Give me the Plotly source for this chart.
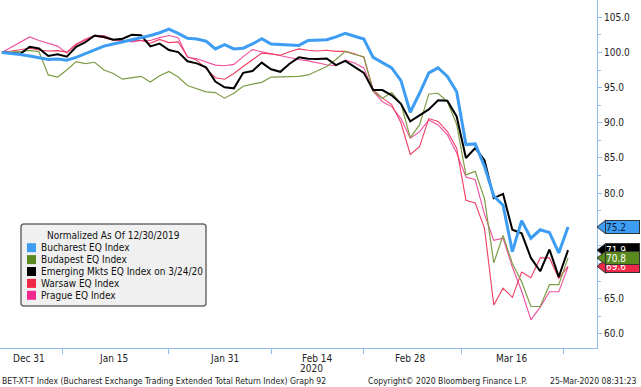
import plotly.graph_objects as go
import pandas as pd

# ---------------- data ----------------
dates = [d.strftime("%Y-%m-%d") for d in pd.bdate_range("2019-12-30", "2020-03-24")]

bucharest = [100.0, 99.9, 99.7, 99.5, 99.3, 99.0, 99.05, 98.9, 99.3, 99.8,
             100.3, 100.9, 101.2, 101.5, 101.7, 102.1, 102.4, 102.8, 103.3, 102.7,
             102.0, 101.9, 101.6, 100.5, 101.1, 100.5, 100.6, 101.2, 101.95, 101.2,
             101.1, 101.0, 101.0, 101.7, 101.7, 101.8, 102.2, 102.7, 102.3, 101.9,
             99.3, 98.6, 97.8, 96.0, 91.5, 94.2, 97.1, 97.8, 96.6, 94.4,
             86.9, 87.0, 83.8, 79.6, 78.3, 71.7, 76.1, 73.6, 74.8, 74.4,
             71.5, 75.2]
budapest = [100.0, 100.0, 100.1, 100.3, 100.1, 96.8, 96.5, 97.5, 98.7, 98.4,
            98.6, 97.5, 97.0, 96.2, 96.45, 96.6, 95.8, 96.7, 97.3, 96.5,
            95.3, 94.8, 94.4, 94.3, 93.5, 94.2, 95.2, 95.5, 95.75, 96.5,
            96.55, 96.55, 96.6, 96.8, 97.4, 98.0, 99.0, 100.15, 99.7, 99.4,
            94.5, 93.5, 94.3, 92.7, 87.9, 89.7, 94.1, 94.2, 93.0, 89.8,
            82.6, 83.1, 79.2, 70.1, 74.0, 70.0, 67.4, 63.9, 63.9, 67.0,
            67.0, 70.8]
emerging = [100.0, 99.9, 99.8, 100.8, 100.55, 99.5, 99.75, 99.4, 100.8, 101.45,
            102.4, 102.2, 101.8, 101.95, 102.5, 102.45, 100.85, 101.25, 100.35, 100.05,
            98.75, 98.45, 97.9, 95.85, 95.05, 94.9, 97.1, 97.35, 98.55, 97.6,
            97.25, 98.4, 99.3, 99.1, 99.05, 99.15, 98.2, 98.8, 98.0, 97.1,
            94.65, 94.65, 93.9, 92.7, 90.2, 91.1, 91.9, 93.2, 93.15, 90.9,
            85.0, 86.4, 84.7, 79.3, 79.9, 74.8, 74.3, 70.8, 68.9, 72.0,
            68.1, 71.9]
warsaw = [100.0, 100.2, 100.45, 100.6, 100.35, 100.2, 100.25, 100.05, 101.2, 101.8,
          102.3, 102.1, 101.75, 101.7, 101.75, 101.7, 101.3, 101.85, 101.4, 101.5,
          99.4, 98.9, 97.7, 96.4, 96.2, 97.0, 98.0, 98.9, 99.9, 99.8,
          99.6, 100.1, 100.5, 100.3, 100.2, 100.3, 100.15, 100.15, 99.8, 99.3,
          94.7, 93.5, 92.6, 90.0, 85.5, 86.6, 90.6, 90.2, 88.75, 86.4,
          79.0, 78.6, 75.0, 64.1, 66.5, 65.2, 68.8, 68.0, 70.8, 70.8,
          67.9, 69.6]
prague = [100.0, 100.7, 101.4, 102.2, 101.7, 101.3, 100.9, 99.9, 101.1, 101.9,
          102.4, 102.4, 101.85, 101.75, 101.5, 101.7, 101.7, 102.1, 102.4, 102.1,
          99.3, 99.1, 98.7, 98.2, 98.1, 98.3, 99.4, 100.4, 100.1, 99.8,
          99.5, 99.3, 99.0, 98.8, 98.5, 98.25, 98.1, 98.9, 98.5, 97.8,
          94.5, 93.0, 92.3, 90.6, 87.8, 88.7, 90.4, 89.7, 88.3, 85.7,
          82.3, 81.9, 77.0, 73.3, 73.6, 69.5, 66.1, 62.0, 63.8, 66.0,
          66.0, 69.5]

series_names = ["Bucharest EQ Index", "Budapest EQ Index",
                "Emerging Mkts EQ Index on 3/24/20", "Warsaw EQ Index", "Prague EQ Index"]
series_values = [bucharest, budapest, emerging, warsaw, prague]

tick_dates = ["2019-12-31", "2020-01-15", "2020-01-31", "2020-02-14", "2020-02-28", "2020-03-16"]
tick_labels = ["Dec 31", "Jan 15", "Jan 31", "Feb 14", "Feb 28", "Mar 16"]
year_label = "2020"
legend_title = "Normalized As Of 12/30/2019"
footer_left = "BET-XT-T Index (Bucharest Exchange Trading Extended Total Return Index) Graph 92"
footer_mid = "Copyright\u00a9 2020 Bloomberg Finance L.P."
footer_right = "25-Mar-2020 08:31:23"

# ---------------- styles ----------------
colors = ["#3d9df2", "#5a8a1e", "#000000", "#f02848", "#f0288f"]
line_colors = ["#3d9df2", "#7d9c45", "#000000", "#ef3f62", "#f04f9e"]
widths = [3, 1.2, 2, 1.1, 1.1]
draw_order = [4, 3, 1, 2, 0]
label_order = [0, 2, 3, 1]          # end-value tags, last drawn on top
label_text_colors = {0: "#0a1a3a", 1: "white", 2: "white", 3: "white"}
FONT = "DejaVu Sans Condensed, DejaVu Sans, Liberation Sans, sans-serif"
AXIS_BLUE = "#8fbfea"

W, H = 641, 387
PL, PR, PT, PB = 0, 597, 0, 348
YMIN, YMAX = 58.0, 107.45
XMIN, XMAX = -0.2, 64.12


def px_x(p):
    return (p - PL) / (PR - PL)


def px_y(p):
    return (PB - p) / (PB - PT)


dy_per_px = (YMAX - YMIN) / (PB - PT)
xi = list(range(len(dates)))

fig = go.Figure()
for k in draw_order:
    fig.add_trace(go.Scatter(x=xi, y=series_values[k], mode="lines",
                             line=dict(color=line_colors[k], width=widths[k]),
                             name=series_names[k], showlegend=False,
                             hoverinfo="skip"))

# x tick marks between the labels
label_idx = [dates.index(d) for d in tick_dates]
tick_marks = [(a + b) / 2 for a, b in zip(label_idx[:-1], label_idx[1:])]
tick_marks.append(label_idx[-1] + (label_idx[-1] - label_idx[-2]) / 2)

annotations = []
shapes = []

# x tick labels
for n, (i, lab) in enumerate(zip(label_idx, tick_labels)):
    annotations.append(dict(x=i, xref="x", y=0, yref="paper", yshift=-3,
                            text=lab, showarrow=False,
                            xanchor="left" if n == 0 else "center", yanchor="top",
                            font=dict(size=10, color="#222", family=FONT)))
annotations.append(dict(x=px_x(311), xref="paper", y=px_y(368), yref="paper",
                        text=year_label, showarrow=False, xanchor="center", yanchor="middle",
                        font=dict(size=10, color="#222", family=FONT)))
# footer
annotations.append(dict(x=px_x(0), xref="paper", y=px_y(381), yref="paper",
                        text=footer_left, showarrow=False, xanchor="left", yanchor="middle",
                        font=dict(size=8.6, color="#222", family=FONT)))
annotations.append(dict(x=px_x(447), xref="paper", y=px_y(381), yref="paper",
                        text=footer_mid, showarrow=False, xanchor="center", yanchor="middle",
                        font=dict(size=8.6, color="#222", family=FONT)))
annotations.append(dict(x=px_x(638), xref="paper", y=px_y(381), yref="paper",
                        text=footer_right, showarrow=False, xanchor="right", yanchor="middle",
                        font=dict(size=8.6, color="#222", family=FONT)))

# end value tags
half = 7 * dy_per_px
for k in label_order:
    v = series_values[k][-1]
    shapes.append(dict(type="path", xref="paper", yref="y", layer="above",
                       path=f"M {px_x(597)} {v} L {px_x(606)} {v + half} L {px_x(606)} {v - half} Z",
                       fillcolor=colors[k], line=dict(color="#333", width=1)))
    annotations.append(dict(x=px_x(605), xref="paper", y=v, yref="y",
                            text=f"{v:.1f}", showarrow=False, xanchor="left", yanchor="middle",
                            align="left", width=33, height=12, borderpad=0,
                            bgcolor=colors[k], bordercolor="#333", borderwidth=1,
                            font=dict(size=10, color=label_text_colors[k], family=FONT)))

# legend box
lx0, lx1, ly0, ly1, r = 21, 206, 224, 306, 3
path = (f"M {px_x(lx0 + r)} {px_y(ly0)} L {px_x(lx1 - r)} {px_y(ly0)} "
        f"Q {px_x(lx1)} {px_y(ly0)} {px_x(lx1)} {px_y(ly0 + r)} "
        f"L {px_x(lx1)} {px_y(ly1 - r)} Q {px_x(lx1)} {px_y(ly1)} {px_x(lx1 - r)} {px_y(ly1)} "
        f"L {px_x(lx0 + r)} {px_y(ly1)} Q {px_x(lx0)} {px_y(ly1)} {px_x(lx0)} {px_y(ly1 - r)} "
        f"L {px_x(lx0)} {px_y(ly0 + r)} Q {px_x(lx0)} {px_y(ly0)} {px_x(lx0 + r)} {px_y(ly0)} Z")
shapes.append(dict(type="path", xref="paper", yref="paper", path=path, layer="above",
                   fillcolor="#f0f0f0", line=dict(color="#6a6a6a", width=1.5)))
annotations.append(dict(x=px_x(113.5), xref="paper", y=px_y(235.5), yref="paper",
                        text=legend_title, showarrow=False, xanchor="center", yanchor="middle",
                        font=dict(size=10, color="#111", family=FONT)))
row0, row_step = 247.7, 11.9
for n, name in enumerate(series_names):
    cy = row0 + n * row_step
    shapes.append(dict(type="rect", xref="paper", yref="paper", layer="above",
                       x0=px_x(27), x1=px_x(36), y0=px_y(cy + 4.5), y1=px_y(cy - 4.5),
                       fillcolor=colors[n], line=dict(width=0)))
    annotations.append(dict(x=px_x(39), xref="paper", y=px_y(cy), yref="paper",
                            text=name, showarrow=False, xanchor="left", yanchor="middle",
                            font=dict(size=10, color="#111", family=FONT)))

fig.update_layout(
    width=W, height=H, autosize=False,
    margin=dict(l=PL, r=W - PR, t=PT, b=H - PB),
    paper_bgcolor="white", plot_bgcolor="white",
    font=dict(family=FONT, size=10, color="#222"),
    showlegend=False,
    shapes=shapes, annotations=annotations,
    xaxis=dict(range=[XMIN, XMAX], showgrid=False, zeroline=False,
               showline=True, linecolor=AXIS_BLUE, linewidth=1,
               tickmode="array", tickvals=tick_marks, showticklabels=False,
               ticks="outside", ticklen=5, tickcolor=AXIS_BLUE, tickwidth=1),
    yaxis=dict(range=[YMIN, YMAX], side="right", showgrid=False, zeroline=False,
               showline=True, linecolor=AXIS_BLUE, linewidth=1,
               tickmode="linear", tick0=60, dtick=5, tickformat=".1f",
               ticks="outside", ticklen=4, tickcolor=AXIS_BLUE, tickwidth=1,
               tickfont=dict(size=10, color="#222", family=FONT),
               minor=dict(dtick=2.5, ticks="outside", ticklen=3, tickcolor=AXIS_BLUE)),
)

fig.write_html("out.html", config={"displayModeBar": False, "staticPlot": True},
               post_script="document.body.style.margin='0px';document.body.style.overflow='hidden';")
